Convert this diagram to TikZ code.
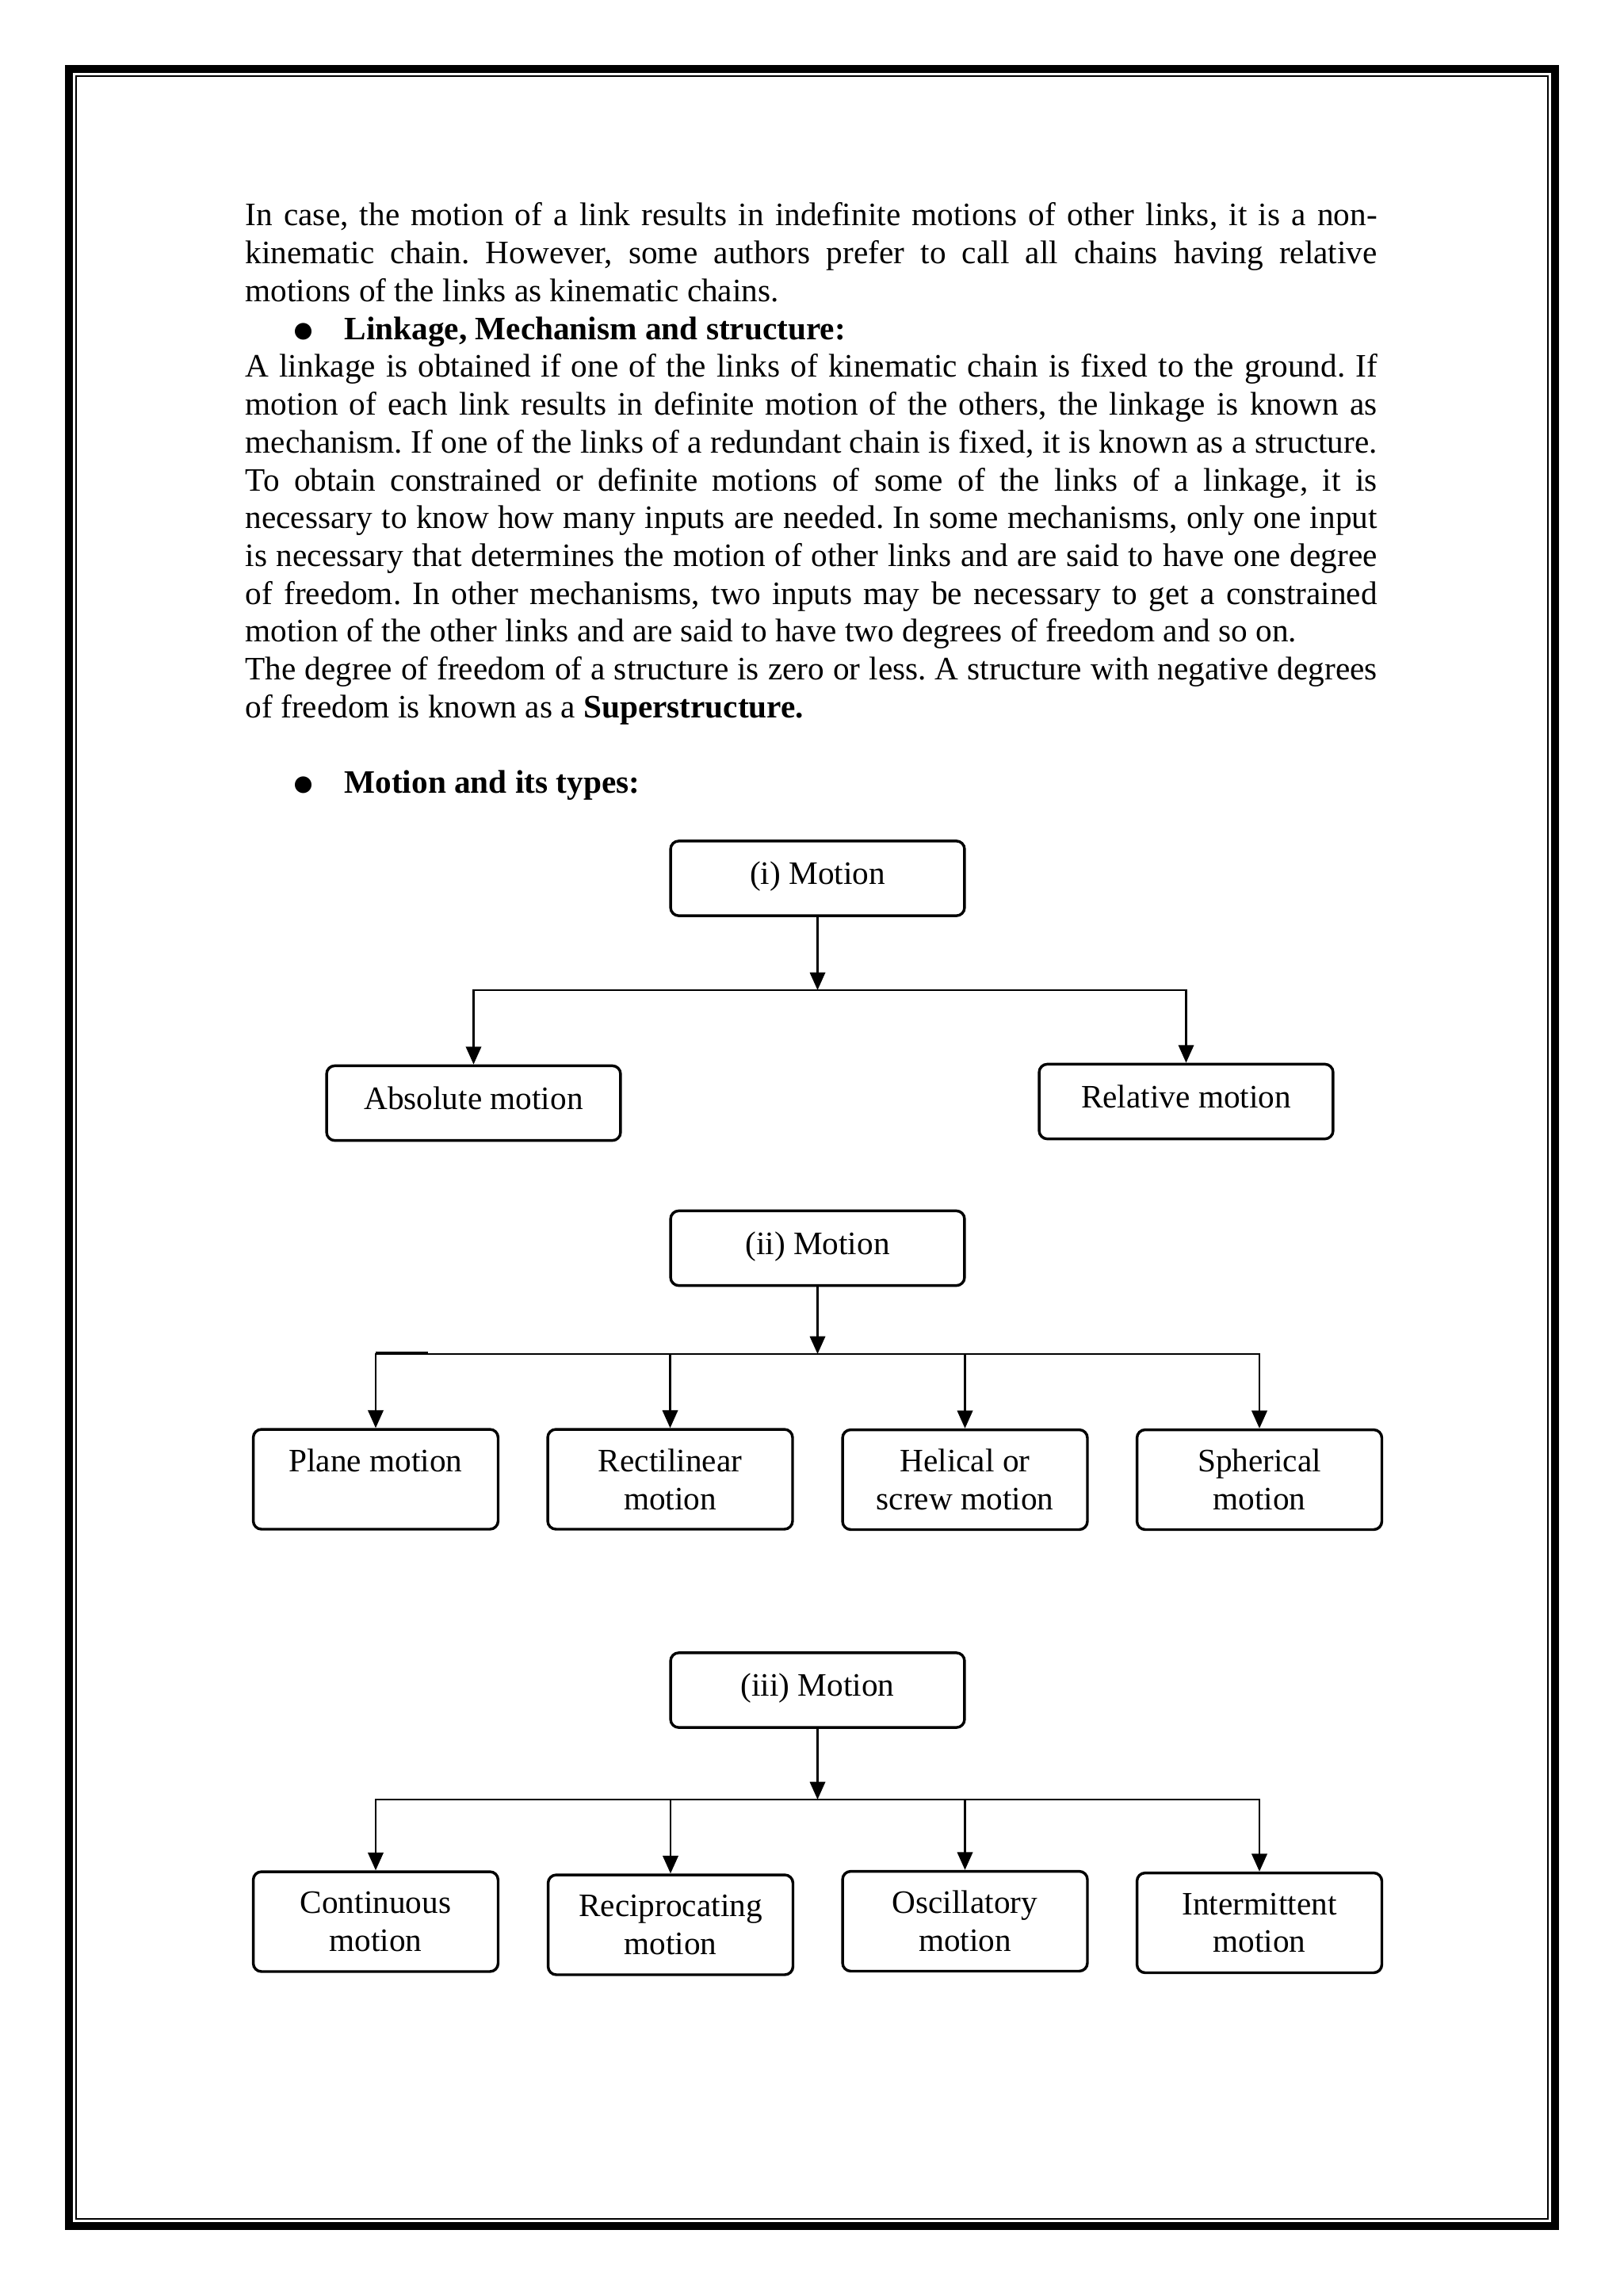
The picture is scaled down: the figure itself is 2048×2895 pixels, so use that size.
\documentclass[tikz,border=0pt]{standalone}
\usepackage{fontspec}
\setmainfont{Liberation Serif}
\newfontfamily\dotfont{DejaVu Sans}
\usetikzlibrary{arrows.meta}

\tikzset{
    head/.style={draw, line width=1pt, rounded corners=3pt, minimum width=107.8pt, minimum height=27.4pt, inner sep=0pt, text height=8.2pt, text depth=3.8pt},
    kind/.style={draw, line width=1pt, rounded corners=3pt, minimum width=89.8pt, minimum height=36.6pt, inner sep=0pt, align=center},
    arr/.style={line width=.8pt, -{Triangle[length=6.5pt, width=5.6pt]}},
    bus/.style={line width=.8pt}
}
\newcommand{\bigdot}{\hspace*{21.2pt}\makebox[0pt]{\raisebox{0.8pt}{\dotfont\fontsize{8pt}{8pt}\selectfont ●}}\hspace*{15.1pt}}

\begin{document}
\begin{tikzpicture}[x=0.29068pt, y=-0.29068pt, font=\fontsize{12pt}{13.87pt}\selectfont]

    \path[use as bounding box, fill=white] (0,0) rectangle (2048,2895);
    \draw[line width=2.9pt] (87,87) rectangle (1962,2808);
    \draw[line width=.7pt] (96,96) rectangle (1953,2799);

    \node[anchor=base west, text width=415.1pt, align=justify, inner sep=0pt] (txt) at (309,285) {\frenchspacing In case, the motion of a link results in indefinite motions of other links, it is a non-\linebreak
        kinematic chain. However, some authors prefer to call all chains having relative\linebreak
        motions of the links as kinematic chains.\par
        \bigdot{\bf Linkage, Mechanism and structure:}\par
        A linkage is obtained if one of the links of kinematic chain is fixed to the ground. If\linebreak
        motion of each link results in definite motion of the others, the linkage is known as\linebreak
        mechanism. If one of the links of a redundant chain is fixed, it is known as a structure.\linebreak
        To obtain constrained or definite motions of some of the links of a linkage, it is\linebreak
        necessary to know how many inputs are needed. In some mechanisms, only one input\linebreak
        is necessary that determines the motion of other links and are said to have one degree\linebreak
        of freedom. In other mechanisms, two inputs may be necessary to get a constrained\linebreak
        motion of the other links and are said to have two degrees of freedom and so on.\par
        The degree of freedom of a structure is zero or less. A structure with negative degrees\linebreak
        of freedom is known as a {\bf Superstructure.}\par
        \vskip 13.87pt
        \bigdot{\bf Motion and its types:}};

    \node[head] (m1) at (1031.5,1108) {(i) Motion};
    \node[head] (abs) at (597.5,1391.5) {Absolute motion};
    \node[head] (rel) at (1496.5,1389.5) {Relative motion};
    \coordinate (j1) at (1031.5,1249);
    \draw[arr] (m1) -- (j1);
    \draw[arr] (j1) -| (abs);
    \draw[arr] (j1) -| (rel);

    \node[head] (m2) at (1031.5,1574.5) {(ii) Motion};
    \node[kind] (plane) at (474,1866) {Plane motion\\\mbox{}};
    \node[kind] (recti) at (845.5,1866) {Rectilinear\\motion};
    \node[kind] (helix) at (1217.5,1866.5) {Helical or\\screw motion};
    \node[kind] (sphere) at (1589,1866.5) {Spherical\\motion};
    \coordinate (j2) at (1031.5,1708);
    \coordinate (nick) at (474,1706);
    \draw[arr] (m2) -- (j2);
    \draw[arr] (j2) -| (plane);
    \draw[arr] (j2) -| (recti);
    \draw[arr] (j2) -| (helix);
    \draw[arr] (j2) -| (sphere);
    \draw[bus] (nick) -- ++(66,0);

    \node[head] (m3) at (1031.5,2132) {(iii) Motion};
    \node[kind] (cont) at (474,2424) {Continuous\\motion};
    \node[kind] (recip) at (846,2428) {Reciprocating\\motion};
    \node[kind] (osc) at (1217.5,2423.5) {Oscillatory\\motion};
    \node[kind] (inter) at (1589,2425.5) {Intermittent\\motion};
    \coordinate (j3) at (1031.5,2270);
    \draw[arr] (m3) -- (j3);
    \draw[arr] (j3) -| (cont);
    \draw[arr] (j3) -| (recip);
    \draw[arr] (j3) -| (osc);
    \draw[arr] (j3) -| (inter);

\end{tikzpicture}
\end{document}
